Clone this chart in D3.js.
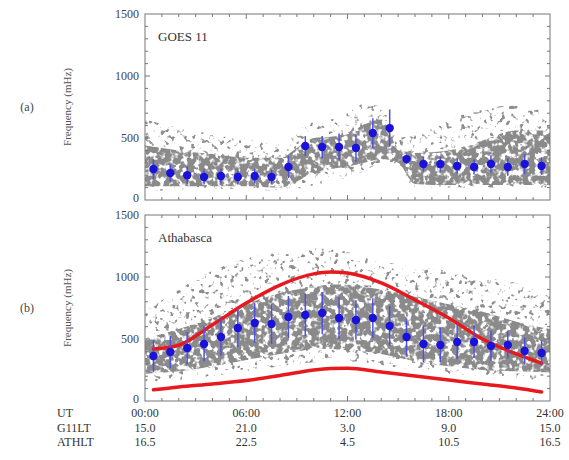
<!DOCTYPE html>
<html>
<head>
<meta charset="utf-8">
<script src="https://cdn.jsdelivr.net/npm/d3@7"></script>
<style>
  body { margin: 0; background: #fff; }
  text { font-family: "Liberation Serif", "DejaVu Serif", serif; }
</style>
</head>
<body>
<div id="chart"></div>
<script>
// hourly bins (UT hours, bin centres)
var binHours = [0.5, 1.5, 2.5, 3.5, 4.5, 5.5, 6.5, 7.5, 8.5, 9.5, 10.5, 11.5,
                12.5, 13.5, 14.5, 15.5, 16.5, 17.5, 18.5, 19.5, 20.5, 21.5, 22.5, 23.5];

// panel (a) GOES 11 medians and spread
var goesMedian = [250, 218, 200, 185, 193, 185, 193, 185, 266, 435, 427, 427,
                  419, 540, 580, 330, 290, 290, 274, 266, 290, 266, 290, 274];
var goesErr = [80, 70, 70, 60, 60, 60, 60, 60, 90, 80, 90, 110,
               110, 120, 150, 40, 60, 60, 60, 60, 70, 70, 80, 70];

// panel (b) Athabasca medians and spread
var athMedian = [363, 395, 427, 460, 516, 589, 629, 621, 677, 694, 710, 669,
                 653, 669, 605, 516, 460, 452, 476, 476, 444, 452, 403, 387];
var athErr = [130, 130, 130, 140, 150, 160, 160, 160, 170, 170, 170, 170,
              160, 160, 160, 150, 150, 140, 140, 130, 120, 110, 110, 100];

// grey scatter clouds, envelopes
var cloudHours = [0, 2, 4, 6, 8, 9, 10, 11, 12, 13, 14, 15, 16, 18, 20, 22, 24];
var goesCoreLow  = [110, 110, 110, 110, 100, 150, 220, 250, 270, 300, 330, 300, 130, 120, 120, 120, 120];
var goesCoreHigh = [440, 400, 370, 340, 340, 420, 500, 510, 530, 610, 650, 420, 380, 400, 480, 560, 560];
var goesOutLow   = [70, 80, 90, 90, 70, 80, 120, 150, 180, 230, 300, 280, 100, 100, 100, 100, 100];
var goesOutHigh  = [650, 580, 530, 490, 460, 560, 630, 650, 700, 780, 750, 500, 540, 640, 740, 760, 700];
var athCoreLow   = [220, 240, 280, 330, 380, 400, 420, 420, 410, 400, 380, 350, 320, 280, 250, 240, 230];
var athCoreHigh  = [500, 580, 670, 780, 870, 900, 920, 940, 940, 920, 900, 870, 840, 780, 720, 640, 580];
var athOutLow    = [150, 170, 200, 240, 280, 300, 310, 320, 320, 310, 290, 270, 250, 220, 200, 180, 170];
var athOutHigh   = [720, 900, 1050, 1150, 1200, 1220, 1230, 1230, 1200, 1170, 1130, 1100, 1080, 1050, 1000, 950, 850];

// red model curves, panel (b)
var modelHours = [0.5, 2, 4, 6, 8, 10, 11, 12, 14, 16, 18, 20, 22, 23.5];
var modelUpper = [420, 450, 615, 790, 935, 1025, 1040, 1032, 952, 815, 669, 500, 380, 306];
var modelLower = [90, 113, 137, 165, 205, 250, 262, 265, 234, 202, 169, 137, 105, 73];

// x axis rows
var utTicks = [0, 6, 12, 18, 24];
var utLabels = ["00:00", "06:00", "12:00", "18:00", "24:00"];
var g11Labels = ["15.0", "21.0", "3.0", "9.0", "15.0"];
var athLabels = ["16.5", "22.5", "4.5", "10.5", "16.5"];
var yTicks = [0, 500, 1000, 1500];

var width = 569, height = 460;
var left = 145, right = 550;

var svg = d3.select("#chart").append("svg")
  .attr("width", width)
  .attr("height", height);

// speckle textures for the scatter clouds
var defs = svg.append("defs");
function speckle(id, a, b, freq, seed) {
  var f = defs.append("filter").attr("id", id)
    .attr("filterUnits", "userSpaceOnUse")
    .attr("x", 0).attr("y", 0).attr("width", width).attr("height", height);
  f.append("feTurbulence").attr("type", "fractalNoise")
    .attr("baseFrequency", freq).attr("numOctaves", 2).attr("seed", seed).attr("result", "noise");
  f.append("feColorMatrix").attr("in", "noise").attr("type", "matrix")
    .attr("values", "0 0 0 0 0  0 0 0 0 0  0 0 0 0 0  " + a + " 0 0 0 " + b).attr("result", "mask");
  f.append("feComposite").attr("in", "SourceGraphic").attr("in2", "mask").attr("operator", "in")
    .attr("result", "cut");
  f.append("feGaussianBlur").attr("in", "cut").attr("stdDeviation", 0.45);
}
speckle("dense", 7, -2.6, 0.17, 3);
speckle("sparse", 9, -5.3, 0.2, 7);

var x = d3.scaleLinear().domain([0, 24]).range([left, right]);

function panel(top, bottom, o) {
  var y = d3.scaleLinear().domain([0, 1500]).range([bottom, top]);
  var g = svg.append("g");

  var area = function(lo, hi) {
    return d3.area()
      .x(function(d, i) { return x(cloudHours[i]); })
      .y0(function(d, i) { return y(lo[i]); })
      .y1(function(d, i) { return y(hi[i]); })
      .curve(d3.curveMonotoneX)(cloudHours);
  };
  g.append("path").attr("d", area(o.outLow, o.outHigh))
    .attr("fill", "#8e8e8e").attr("filter", "url(#sparse)");
  g.append("path").attr("d", area(o.coreLow, o.coreHigh))
    .attr("fill", "#8a8a8a").attr("filter", "url(#dense)");

  // red model curves
  if (o.curves) {
    o.curves.forEach(function(c) {
      g.append("path")
        .attr("d", d3.line()
          .x(function(d, i) { return x(modelHours[i]); })
          .y(function(d) { return y(d); })
          .curve(d3.curveMonotoneX)(c))
        .attr("fill", "none")
        .attr("stroke", "#e8191e")
        .attr("stroke-width", 3.5)
        .attr("stroke-linecap", "round");
    });
  }

  // error bars and medians
  g.selectAll(".err").data(o.median).enter().append("line")
    .attr("x1", function(d, i) { return x(binHours[i]); })
    .attr("x2", function(d, i) { return x(binHours[i]); })
    .attr("y1", function(d, i) { return y(d - o.err[i]); })
    .attr("y2", function(d, i) { return y(d + o.err[i]); })
    .attr("stroke", "#5050e0")
    .attr("stroke-width", 1.5);
  g.selectAll(".pt").data(o.median).enter().append("circle")
    .attr("cx", function(d, i) { return x(binHours[i]); })
    .attr("cy", function(d) { return y(d); })
    .attr("r", 4.2)
    .attr("fill", "#1a12d8");

  // frame
  g.append("rect")
    .attr("x", left).attr("y", top)
    .attr("width", right - left).attr("height", bottom - top)
    .attr("fill", "none").attr("stroke", "#777").attr("stroke-width", 1);

  // inward ticks on all sides
  var ticks = g.append("g").attr("stroke", "#777").attr("stroke-width", 1);
  d3.range(1, 24).forEach(function(h) {
    var len = h % 6 === 0 ? 5 : 3;
    ticks.append("line").attr("x1", x(h)).attr("x2", x(h)).attr("y1", bottom).attr("y2", bottom - len);
    ticks.append("line").attr("x1", x(h)).attr("x2", x(h)).attr("y1", top).attr("y2", top + len);
  });
  d3.range(100, 1500, 100).forEach(function(v) {
    var len = v % 500 === 0 ? 5 : 3;
    ticks.append("line").attr("x1", left).attr("x2", left + len).attr("y1", y(v)).attr("y2", y(v));
    ticks.append("line").attr("x1", right).attr("x2", right - len).attr("y1", y(v)).attr("y2", y(v));
  });

  // y tick labels
  g.selectAll(".yl").data(yTicks).enter().append("text")
    .attr("x", 139)
    .attr("y", function(d) { return y(d) + (d === 0 ? 2 : 4); })
    .attr("text-anchor", "end")
    .style("font-size", "12px")
    .style("fill", "#444")
    .text(function(d) { return d; });

  // axis title and panel letter
  var mid = (top + bottom) / 2;
  g.append("text")
    .attr("transform", "translate(71," + mid + ") rotate(-90)")
    .attr("text-anchor", "middle")
    .style("font-size", "11px")
    .style("fill", "#555")
    .text("Frequency (mHz)");
  g.append("text")
    .attr("x", 27).attr("y", mid + 4)
    .attr("text-anchor", "middle")
    .style("font-size", "12px")
    .style("fill", "#444")
    .text(o.letter);
  g.append("text")
    .attr("x", 158).attr("y", top + 27)
    .style("font-size", "13px")
    .style("fill", "#333")
    .text(o.name);
}

panel(14, 200, {
  name: "GOES 11", letter: "(a)",
  median: goesMedian, err: goesErr,
  coreLow: goesCoreLow, coreHigh: goesCoreHigh,
  outLow: goesOutLow, outHigh: goesOutHigh
});
panel(215, 401, {
  name: "Athabasca", letter: "(b)",
  median: athMedian, err: athErr,
  coreLow: athCoreLow, coreHigh: athCoreHigh,
  outLow: athOutLow, outHigh: athOutHigh,
  curves: [modelUpper, modelLower]
});

// x label rows
var rows = [["UT", utLabels, 417], ["G11LT", g11Labels, 432], ["ATHLT", athLabels, 446]];
rows.forEach(function(r) {
  svg.append("text").attr("x", 57).attr("y", r[2])
    .style("font-size", "12px").style("fill", "#333").text(r[0]);
  svg.selectAll(null).data(r[1]).enter().append("text")
    .attr("x", function(d, i) { return x(utTicks[i]); })
    .attr("y", r[2])
    .attr("text-anchor", "middle")
    .style("font-size", "12px")
    .style("fill", "#333")
    .text(function(d) { return d; });
});
</script>
</body>
</html>
